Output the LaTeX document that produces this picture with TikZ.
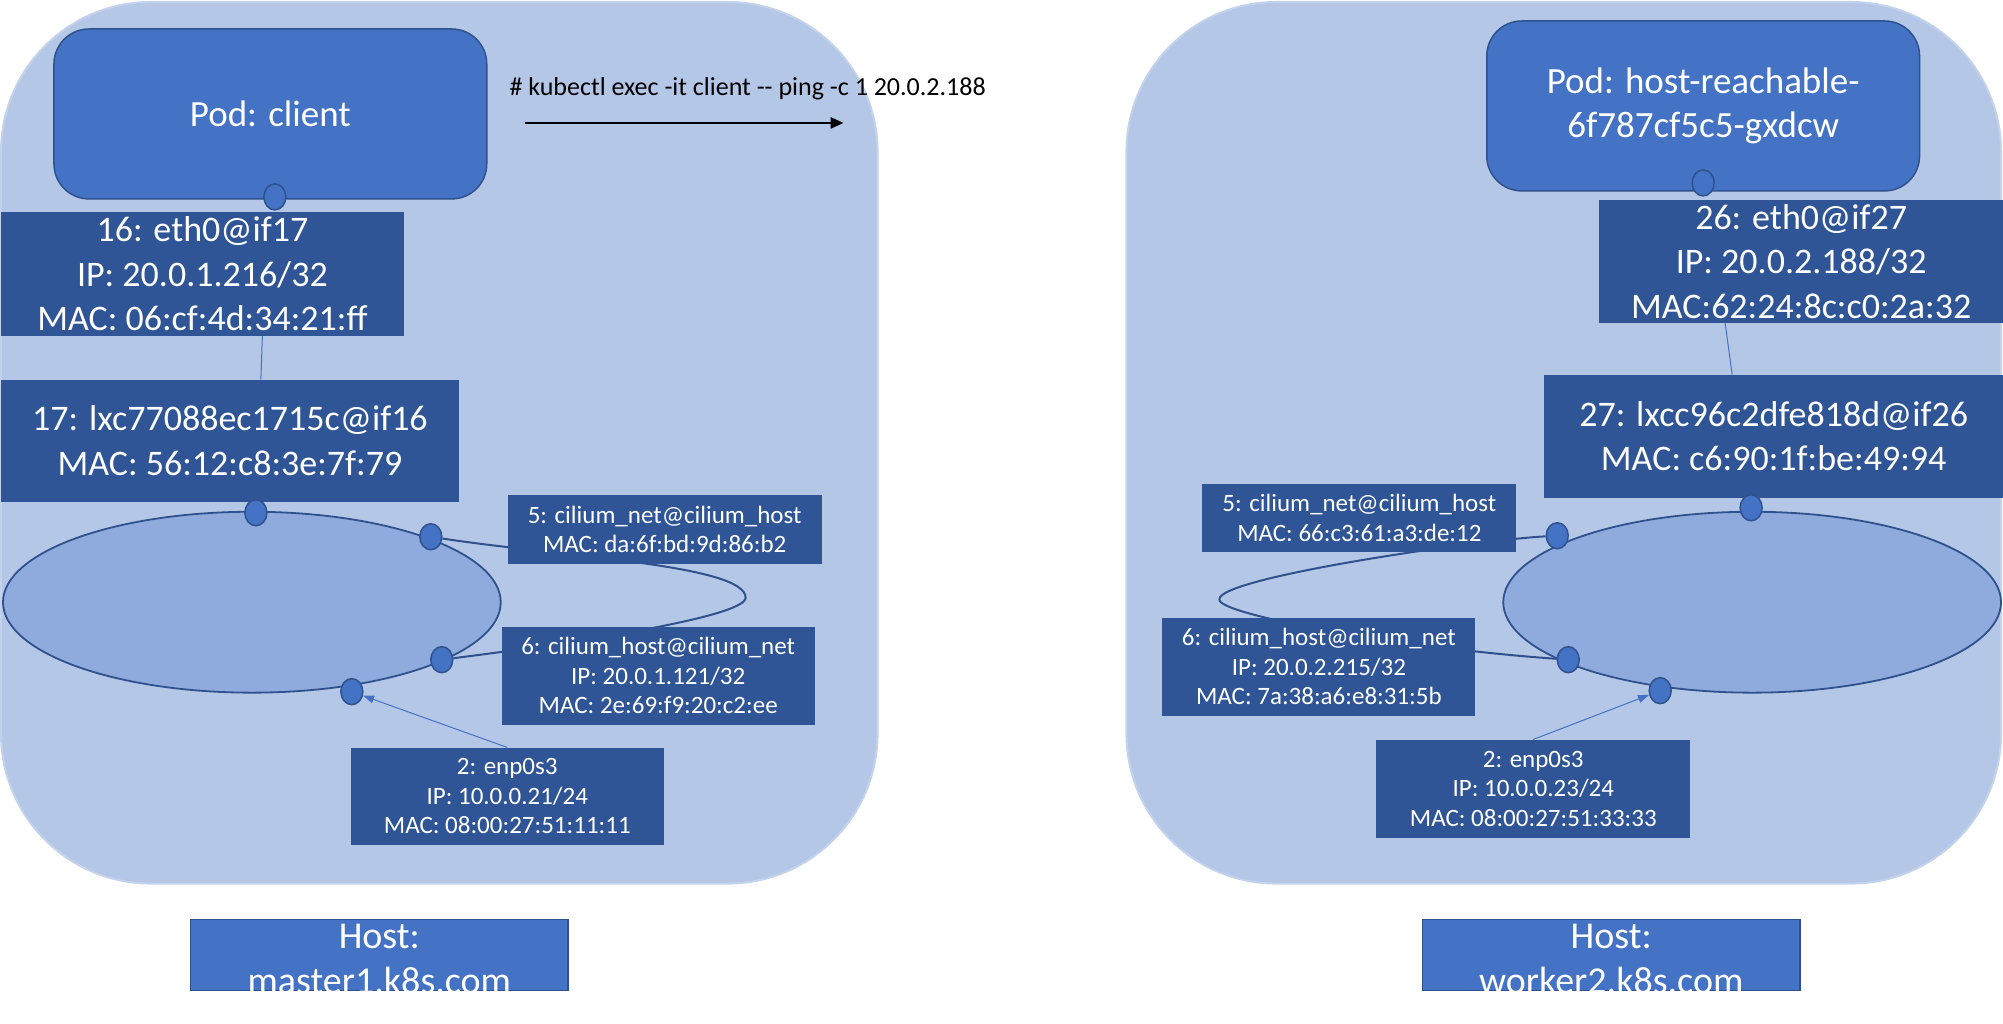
\documentclass[tikz,border=0pt]{standalone}
\usepackage{fontspec}
\setmainfont{Carlito}
\usetikzlibrary{shapes.geometric,arrows.meta,calc}
\definecolor{hostbg}{HTML}{B4C7E7}
\definecolor{hostedge}{HTML}{C4D3EC}
\definecolor{accent}{HTML}{4472C4}
\definecolor{accentdark}{HTML}{2F528F}
\definecolor{ifbox}{HTML}{2F5597}
\definecolor{bridgefill}{HTML}{8FAADC}
\pgfdeclarelayer{bg}
\pgfdeclarelayer{mid}
\pgfsetlayers{bg,mid,main}
\tikzset{
  hostarea/.style={draw=hostedge, line width=2pt, fill=hostbg, rounded corners=150pt,
    minimum width=#1, minimum height=882pt, inner sep=0pt},
  podbox/.style={draw=accentdark, fill=accent, line width=1.5pt, rounded corners=35pt,
    minimum width=433pt, minimum height=170pt, inner sep=0pt, text=white, align=center,
    font=\fontsize{37}{44}\selectfont},
  bigif/.style={fill=ifbox, inner sep=0pt, text=white, align=center,
    font=\fontsize{36}{44.5}\selectfont},
  smallif/.style={fill=ifbox, inner sep=0pt, text=white, align=center,
    font=\fontsize{25}{29.6}\selectfont},
  hostlabel/.style={draw=accentdark, fill=accent, line width=1.5pt, inner sep=0pt,
    minimum width=378pt, minimum height=71pt},
  hosttext/.style={inner sep=0pt, text=white, align=center,
    font=\fontsize{38}{45}\selectfont},
  bridge/.style={ellipse, draw=accentdark, fill=bridgefill, line width=1.8pt,
    minimum width=498pt, minimum height=181pt, inner sep=0pt},
  port/.style={ellipse, draw=accentdark, fill=accent, line width=1.5pt,
    minimum width=22pt, minimum height=26pt, inner sep=0pt},
  veth/.style={draw=accent, line width=1pt},
  pairlink/.style={draw=accentdark, line width=2pt},
  uplink/.style={draw=accent, line width=1pt, -{Triangle[length=11pt,width=8pt]}},
}
\begin{document}
\begin{tikzpicture}[x=1pt,y=-1pt]
\begin{pgfonlayer}{bg}
  \fill[white] (0,0) rectangle (2003,1024);
  % the two hosts
  \node[hostarea=877pt] (hostL) at (438.5,443) {};
  \node[hostarea=875pt] (hostR) at (1563.5,443) {};
  % cilium bridges
  \node[bridge] (brL) at (251,602.5) {};
  \node[bridge] (brR) at (1752,602.5) {};
\end{pgfonlayer}
\useasboundingbox (0,0) rectangle (2003,1024);

% ---------- master1 ----------
\node[podbox] (podL) at (269.5,114) {Pod: client};
\node[bigif, minimum width=403pt, minimum height=124pt] (ethL) at (201.5,274)
  {16: eth0@if17\\IP: 20.0.1.216/32\\MAC: 06:cf:4d:34:21:ff};
\node[bigif, minimum width=458pt, minimum height=122pt] (lxcL) at (229,441)
  {17: lxc77088ec1715c@if16\\MAC: 56:12:c8:3e:7f:79};
\node[smallif, minimum width=314pt, minimum height=69pt] (netL) at (664,529.5)
  {5: cilium\_net@cilium\_host\\MAC: da:6f:bd:9d:86:b2};
\node[smallif, minimum width=313pt, minimum height=98pt] (chL) at (657.5,676)
  {6: cilium\_host@cilium\_net\\IP: 20.0.1.121/32\\MAC: 2e:69:f9:20:c2:ee};
\node[smallif, minimum width=313pt, minimum height=97pt] (enpL) at (506.5,796.5)
  {2: enp0s3\\IP: 10.0.0.21/24\\MAC: 08:00:27:51:11:11};
\node[hostlabel] (labL) at (378.5,955.5) {};
\node[hosttext] (labLtext) at (378.5,959) {Host:\\master1.k8s.com};

\node[port] (podLp) at (274,197) {};
\node[port] (brLtop) at (255,513) {};
\node[port] (c5L) at (430,537) {};
\node[port] (c6L) at (441,660) {};
\node[port] (c2L) at (351,692) {};

\draw[veth] ($(ethL.south)+(60,0)$) -- ($(lxcL.north)+(31,0)$);
\draw[uplink] (enpL.north) -- (c2L);

% ---------- worker2 ----------
\node[podbox] (podR) at (1703,106) {Pod: host-reachable-\\6f787cf5c5-gxdcw};
\node[bigif, minimum width=404pt, minimum height=123pt] (ethR) at (1801,261.5)
  {26: eth0@if27\\IP: 20.0.2.188/32\\MAC:62:24:8c:c0:2a:32};
\node[bigif, minimum width=459pt, minimum height=123pt] (lxcR) at (1773.5,436.5)
  {27: lxcc96c2dfe818d@if26\\MAC: c6:90:1f:be:49:94};
\node[smallif, minimum width=314pt, minimum height=68pt] (netR) at (1359,518)
  {5: cilium\_net@cilium\_host\\MAC: 66:c3:61:a3:de:12};
\node[smallif, minimum width=313pt, minimum height=98pt] (chR) at (1318.5,667)
  {6: cilium\_host@cilium\_net\\IP: 20.0.2.215/32\\MAC: 7a:38:a6:e8:31:5b};
\node[smallif, minimum width=314pt, minimum height=98pt] (enpR) at (1533,789)
  {2: enp0s3\\IP: 10.0.0.23/24\\MAC: 08:00:27:51:33:33};
\node[hostlabel] (labR) at (1611,955.5) {};
\node[hosttext] (labRtext) at (1611,959) {Host:\\worker2.k8s.com};

\node[port] (podRp) at (1703,183) {};
\node[port] (brRtop) at (1751,508) {};
\node[port] (c5R) at (1557,536) {};
\node[port] (c6R) at (1568,660) {};
\node[port] (c2R) at (1660,691) {};

\draw[veth] ($(ethR.south)+(-76,0)$) -- ($(lxcR.north)+(-41.5,0)$);
\draw[uplink] (enpR.north) -- (c2R);

% cilium_net <-> cilium_host veth pairs, passing behind their boxes
\begin{pgfonlayer}{mid}
  \coordinate (loopL) at (745,598);
  \coordinate (loopR) at (1219,600);
  \draw[pairlink] (c5L) .. controls (560,557) and (745,565) .. (loopL)
                        .. controls (745,618) and (560,645) .. (c6L);
  \draw[pairlink] (c5R) .. controls (1480,540) and (1215,578) .. (loopR)
                        .. controls (1219,615) and (1400,648) .. (c6R);
\end{pgfonlayer}

% command
\node[font=\fontsize{26}{30}\selectfont, inner sep=0pt] (cmd) at (747,89)
  {\# kubectl exec -it client -{}- ping -c 1 20.0.2.188};
\coordinate (cmdA) at (524,123);
\coordinate (cmdB) at (843,123);
\draw[line width=2.5pt, -{Triangle[length=13pt,width=11pt]}] (cmdA) -- (cmdB);
\end{tikzpicture}
\end{document}
